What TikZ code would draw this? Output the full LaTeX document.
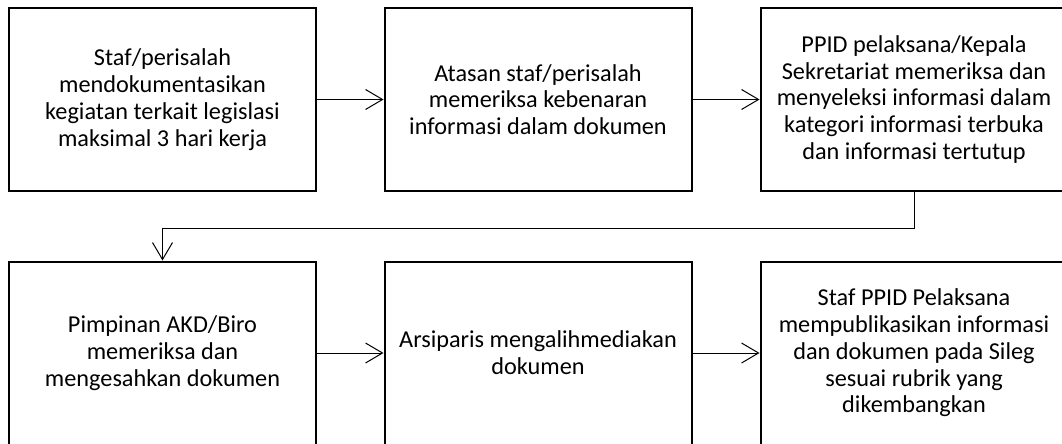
\documentclass[tikz,border=0pt]{standalone}
\usepackage{fontspec}
\setmainfont{Carlito}
\usetikzlibrary{arrows.meta,positioning}

\begin{document}
\begin{tikzpicture}[x=0.75pt,y=-0.75pt,
    stepbox/.style={draw,line width=1.5pt,minimum width=230.25pt,minimum height=137.25pt,
      align=center,inner sep=0pt,font=\fontsize{18.2}{20.1}\selectfont},
    flow/.style={line width=0.75pt,-{Straight Barb[length=12.75pt,width=15pt,line width=0.75pt]}}]
  \useasboundingbox (0,0) rectangle (1062,443);
  \clip (0,0) rectangle (1062,443);
  % Top row
  \node[stepbox] (staf) at (162.5,99.5) {Staf/perisalah\\mendokumentasikan\\kegiatan terkait legislasi\\maksimal 3 hari kerja};
  \node[stepbox] (atasan) at (538,99.5) {Atasan staf/perisalah\\memeriksa kebenaran\\informasi dalam dokumen};
  \node[stepbox] (ppid) at (914,99.5) {PPID pelaksana/Kepala\\Sekretariat memeriksa dan\\menyeleksi informasi dalam\\kategori informasi terbuka\\dan informasi tertutup};
  % Bottom row
  \node[stepbox] (pimpinan) at (162.5,353) {Pimpinan AKD/Biro\\memeriksa dan\\mengesahkan dokumen};
  \node[stepbox] (arsiparis) at (538,353) {Arsiparis mengalihmediakan\\dokumen};
  \node[stepbox] (publikasi) at (914,353) {Staf PPID Pelaksana\\mempublikasikan informasi\\dan dokumen pada Sileg\\sesuai rubrik yang\\dikembangkan};
  % Arrows
  \draw[flow] (staf) -- (atasan);
  \draw[flow] (atasan) -- (ppid);
  \draw[flow] (ppid.south) -- ++(0,36) -| (pimpinan.north);
  \draw[flow] (pimpinan) -- (arsiparis);
  \draw[flow] (arsiparis) -- (publikasi);
\end{tikzpicture}
\end{document}
